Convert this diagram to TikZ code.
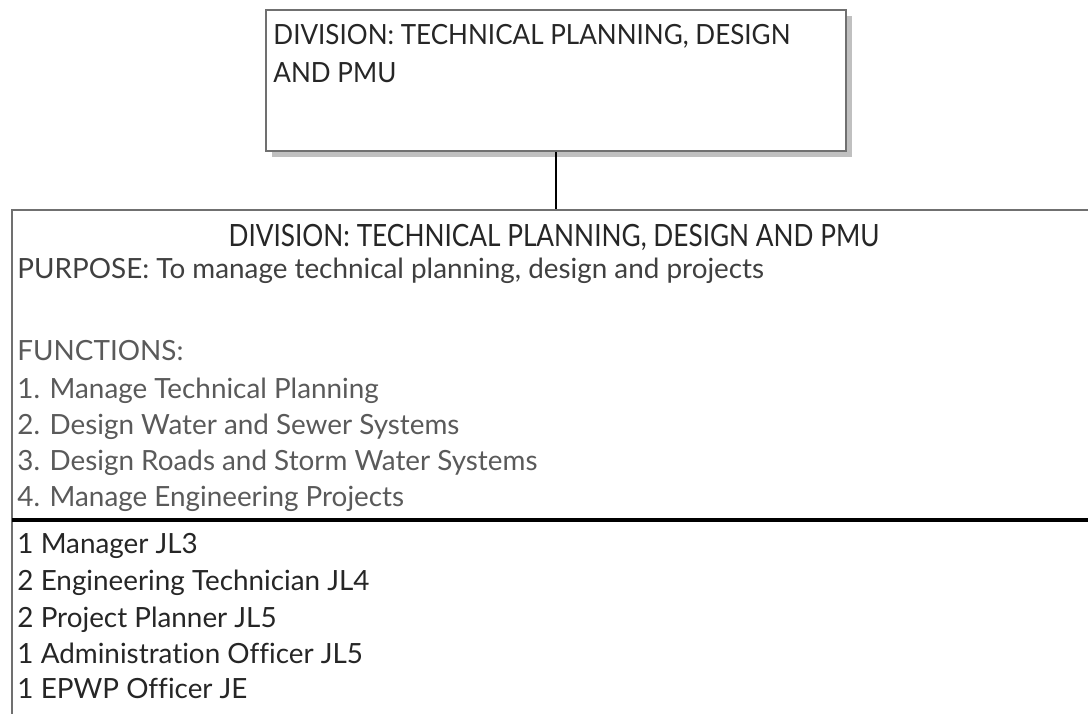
\documentclass[tikz,border=0pt]{standalone}
\usepackage{fontspec}
\setmainfont{Lato}[Ligatures=NoCommon]
\newfontfamily\titlefont[FakeStretch=0.855,Ligatures=NoCommon]{Lato}
\newfontfamily\headfont[FakeStretch=0.935,Ligatures=NoCommon]{Lato}
\usetikzlibrary{shadows}

\definecolor{boxgrey}{RGB}{112,112,112}
\definecolor{shadowgrey}{RGB}{192,192,192}
\definecolor{inkdark}{RGB}{38,38,38}
\definecolor{inkmid}{RGB}{64,64,64}
\definecolor{inklight}{RGB}{90,90,90}

\begin{document}
\begin{tikzpicture}[
  divbox/.style={draw=boxgrey, line width=0.06cm, fill=white, inner sep=0pt},
  txt/.style={anchor=base west, inner sep=0pt, text=inkdark, font=\fontsize{19.8}{24}\selectfont},
  fn/.style={txt, text=inklight},
  staff/.style={txt, text=inkdark}
]
\useasboundingbox (0,0) rectangle (27.2,17.825);
\clip (0,0) rectangle (27.2,17.825);

% division box on top
\node [divbox, minimum width=14.5cm, minimum height=3.525cm,
  drop shadow={shadow xshift=0.14cm, shadow yshift=-0.14cm, fill=shadowgrey, opacity=1}] (head) at (13.9,15.8125) {};
\node [txt, font=\headfont\fontsize{19.8}{24}\selectfont] (headl1) at (6.83,16.7) {DIVISION: TECHNICAL PLANNING, DESIGN};
\node [txt, font=\headfont\fontsize{19.8}{24}\selectfont] (headl2) at (6.83,15.75) {AND PMU};

% unit box below
\node [divbox, minimum width=27.25cm, minimum height=13.5cm] (unit) at (13.925,5.825) {};
\draw [black, line width=0.05cm] (head.south) -- (head.south |- unit.north);
\coordinate (divw) at (0.3,4.825);
\coordinate (dive) at (27.55,4.825);
\draw [black, line width=0.09cm] (divw) -- (dive);

\node [txt, anchor=base, font=\titlefont\fontsize{21.8}{26}\selectfont] (title) at (13.85,11.675) {DIVISION: TECHNICAL PLANNING, DESIGN AND PMU};
\node [txt, text=inkmid] (purpose) at (0.43,10.875) {PURPOSE: To manage technical planning, design and projects};

\node [fn] (fhead) at (0.43,8.825) {FUNCTIONS:};
\node [fn] (f1) at (0.43,7.875) {1. Manage Technical Planning};
\node [fn] (f2) at (0.43,6.975) {2. Design Water and Sewer Systems};
\node [fn] (f3) at (0.43,6.075) {3. Design Roads and Storm Water Systems};
\node [fn] (f4) at (0.43,5.175) {4. Manage Engineering Projects};

\node [staff] (s1) at (0.43,4.0) {1 Manager JL3};
\node [staff] (s2) at (0.43,3.075) {2 Engineering Technician JL4};
\node [staff] (s3) at (0.43,2.15) {2 Project Planner JL5};
\node [staff] (s4) at (0.43,1.25) {1 Administration Officer JL5};
\node [staff] (s5) at (0.43,0.375) {1 EPWP Officer JE};
\end{tikzpicture}
\end{document}
